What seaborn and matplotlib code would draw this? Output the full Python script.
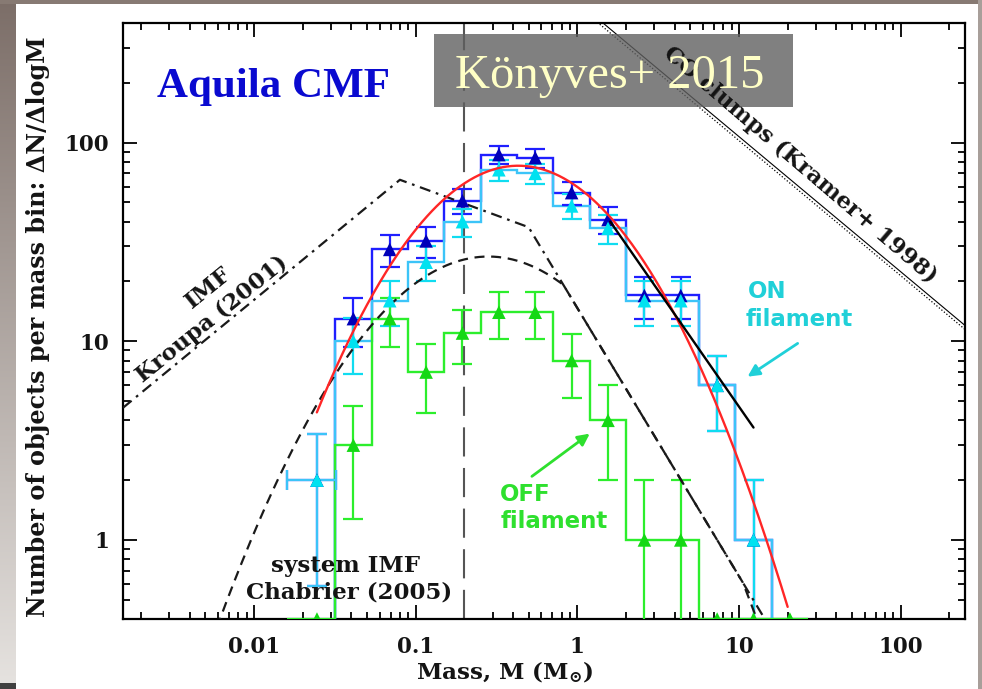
import numpy as np
import pandas as pd
import matplotlib
matplotlib.use("Agg")
import matplotlib.pyplot as plt
from matplotlib.patches import Rectangle
from matplotlib.ticker import FixedLocator, FixedFormatter, LogLocator, NullFormatter
import seaborn as sns

# ---------------- data: Aquila core mass function ----------------
# bin centres in log10(M / Msun), constant bin width in dex
log_centres = [-1.61, -1.385, -1.16, -0.935, -0.71, -0.485, -0.26, -0.035,
               0.19, 0.415, 0.64, 0.865, 1.09, 1.315]
bin_width_dex = 0.225
all_cores = [2, 13, 29, 32, 51, 87, 84, 56, 41, 17, 17, 6, 1, 0]
on_filament = [2, 10, 16, 25, 40, 73, 70, 48, 37, 16, 16, 6, 1, 0]
off_filament = [0, 3, 13, 7, 11, 14, 14, 8, 4, 1, 1, 0, 0, 0]
first_bin_span = [0.016, 0.032]      # horizontal bar of the lowest-mass bin

# lognormal fit to the CMF: log N = log(peak) - (logM - logM_peak)^2 / width
fit_peak_n, fit_peak_logm, fit_width = 76.5, -0.365, 1.25
fit_mass_range = [0.0245, 20.0]
# power-law fit to the high-mass end
pl_anchor_mass, pl_anchor_n, pl_slope = 1.6, 40.0, -1.17
pl_mass_range = [1.6, 12.3]
# Kroupa (2001) IMF, broken power law in dN/dlogM
kroupa_breaks = [0.08, 0.5]
kroupa_slopes = [0.67, -0.3, -1.35]
kroupa_peak_n = 65.0
# Chabrier (2005) system IMF, lognormal part
chab_peak_n, chab_peak_logm, chab_width = 26.7, -0.55, 1.51
# CO clumps, Kramer et al. (1998): dN/dlogM ~ M^-0.7
kramer_slope, kramer_n_at_100 = -0.68, 22.4
completeness_mass = 0.2

xtick_values = [0.01, 0.1, 1, 10, 100]
xtick_labels = ["0.01", "0.1", "1", "10", "100"]
ytick_values = [1, 10, 100]
ytick_labels = ["1", "10", "100"]
x_limits = [0.00155, 250.0]
y_limits = [0.4, 400.0]

# ---------------- style ----------------
sns.set_style("ticks")
plt.rcParams.update({
    "font.family": ["DejaVu Serif"],
    "font.weight": "bold",
    "mathtext.fontset": "dejavuserif",
    "axes.linewidth": 1.6,
    "axes.edgecolor": "black",
})

C_ALL, C_ALL_MK = "#1f1fff", "#0000b8"
C_ON, C_ON_BAR, C_ON_MK = "#3cc4f8", "#10dcf0", "#00e2f0"
C_OFF, C_OFF_MK = "#2cee2c", "#14d814"
C_FIT = "#ff2626"
C_TXT = "#141414"

W, H = 982, 689
fig = plt.figure(figsize=(W / 100, H / 100), dpi=100, facecolor="white")

# slide frame: shaded strips on the left, top and right
grad = fig.add_axes([0, 0, 16 / W, 1])
top_c = np.array([0x7c, 0x6e, 0x68]) / 255
bot_c = np.array([0xe6, 0xe3, 0xe0]) / 255
t = np.linspace(0, 1, 256)[:, None]
grad.imshow((top_c * (1 - t) + bot_c * t)[:, None, :], aspect="auto", extent=[0, 1, 0, 1])
grad.set_axis_off()
fig.add_artist(Rectangle((0, 1 - 4 / H), 1, 4 / H, transform=fig.transFigure,
                         color="#877a73", lw=0))
fig.add_artist(Rectangle((1 - 4 / W, 0), 4 / W, 1, transform=fig.transFigure,
                         color="#a89f9a", lw=0))
fig.add_artist(Rectangle((0, 0), 16 / W, 6 / H, transform=fig.transFigure,
                         color="#404040", lw=0))

ax = fig.add_axes([123 / W, 1 - 619 / H, 842 / W, 596 / H])
ax.set_xscale("log")
ax.set_yscale("log")
ax.set_xlim(*x_limits)
ax.set_ylim(*y_limits)
floor = y_limits[0]

lc = np.array(log_centres)
mass = 10 ** lc
edges_12 = 10 ** np.append(lc[1:13] - bin_width_dex / 2, lc[12] + bin_width_dex / 2)
edges_13 = 10 ** np.append(lc[1:14] - bin_width_dex / 2, lc[13] + bin_width_dex / 2)
all_v = np.array(all_cores, float)
on_v = np.array(on_filament, float)
off_v = np.array(off_filament, float)

# ---------------- model curves ----------------
m_grid = np.logspace(np.log10(x_limits[0]), np.log10(40), 900)

m1, m2 = kroupa_breaks
a1, a2, a3 = kroupa_slopes
n_m2 = kroupa_peak_n * (m2 / m1) ** a2
kroupa = np.where(m_grid < m1, kroupa_peak_n * (m_grid / m1) ** a1,
                  kroupa_peak_n * (m_grid / m1) ** a2)
kroupa = np.where(m_grid > m2, n_m2 * (m_grid / m2) ** a3, kroupa)
kroupa_tail = n_m2 * (m_grid / m2) ** a3

chab = 10 ** (np.log10(chab_peak_n) - (np.log10(m_grid) - chab_peak_logm) ** 2 / chab_width)
chab = np.where(m_grid > m2, np.minimum(chab, kroupa_tail), chab)

fit_m = np.logspace(np.log10(fit_mass_range[0]), np.log10(fit_mass_range[1]), 300)
fit_n = 10 ** (np.log10(fit_peak_n) - (np.log10(fit_m) - fit_peak_logm) ** 2 / fit_width)

pl_m = np.logspace(np.log10(pl_mass_range[0]), np.log10(pl_mass_range[1]), 50)
pl_n = pl_anchor_n * (pl_m / pl_anchor_mass) ** pl_slope

kr_m = np.logspace(0, 2.6, 50)
kr_n = kramer_n_at_100 * (kr_m / 100) ** kramer_slope

sns.lineplot(x=kr_m, y=kr_n, ax=ax, color="black", lw=0.8, zorder=2)
sns.lineplot(x=kr_m, y=kr_n * 0.955, ax=ax, color="black", lw=0.9,
             linestyle=(0, (1, 1.6)), zorder=2)
sns.lineplot(x=m_grid, y=kroupa, ax=ax, color="#1a1a1a", lw=1.6,
             linestyle=(0, (5, 2.6, 1.2, 2.6)), zorder=6)
sns.lineplot(x=m_grid, y=chab, ax=ax, color="#1a1a1a", lw=1.6,
             linestyle=(0, (4.5, 3)), zorder=6)

ax.axvline(completeness_mass, color="#555555", lw=1.5, linestyle=(0, (14, 5.5)), zorder=2)

# ---------------- histograms ----------------
ax.stairs(np.maximum(all_v[1:13], floor), edges_12, baseline=floor,
          color=C_ALL, lw=1.7, zorder=4)
ax.stairs(np.maximum(on_v[1:13], floor), edges_12, baseline=floor,
          color=C_ON, lw=1.7, zorder=4.1)
ax.stairs(np.maximum(off_v[1:14], floor), edges_13, baseline=floor,
          color=C_OFF, lw=1.7, zorder=4.2)


def poisson_bars(vals, idx, color, z):
    v = vals[idx]
    keep = v > 0
    ax.errorbar(mass[idx][keep], v[keep], yerr=np.sqrt(v[keep]), fmt="none",
                ecolor=color, elinewidth=1.6, capsize=7, capthick=1.6, zorder=z)


span_lo = mass[0] - first_bin_span[0]
span_hi = first_bin_span[1] - mass[0]
for vals, bar_c, z in [(all_v, C_ALL, 5), (on_v, C_ON_BAR, 5.1), (off_v, C_OFF, 5.2)]:
    poisson_bars(vals, np.arange(1, 14), bar_c, z)

# lowest-mass bin: point with horizontal extent
for vals, bar_c, z in [(all_v, C_ALL, 5), (on_v, C_ON, 5.1), (off_v, C_OFF, 5.2)]:
    y0 = max(vals[0], floor)
    yerr = np.sqrt(vals[0]) if vals[0] > 0 else 0
    ax.errorbar([mass[0]], [y0], xerr=[[span_lo], [span_hi]],
                yerr=[[yerr], [yerr]] if yerr else None, fmt="none",
                ecolor=bar_c, elinewidth=1.6, capsize=7 if yerr else 0,
                capthick=1.6, zorder=z)

# triangles
pts_all = pd.DataFrame({"m": mass[:13], "n": all_v[:13]})
pts_on = pd.DataFrame({"m": mass[:13], "n": on_v[:13]})
pts_off = pd.DataFrame({"m": mass, "n": np.maximum(off_v, floor)})
pts_all = pts_all[pts_all.n > 0]
pts_on = pts_on[pts_on.n > 0]
sns.scatterplot(data=pts_all, x="m", y="n", marker="^", s=95, color=C_ALL_MK,
                edgecolor="none", ax=ax, zorder=7)
sns.scatterplot(data=pts_on, x="m", y="n", marker="^", s=95, color=C_ON_MK,
                edgecolor="none", ax=ax, zorder=7.1)
sns.scatterplot(data=pts_off, x="m", y="n", marker="^", s=95, color=C_OFF_MK,
                edgecolor="none", ax=ax, zorder=7.2)

# fits on top
sns.lineplot(x=fit_m, y=fit_n, ax=ax, color=C_FIT, lw=1.7, zorder=8)
sns.lineplot(x=pl_m, y=pl_n, ax=ax, color="black", lw=1.7, zorder=8)

# ---------------- axes ----------------
ax.xaxis.set_major_locator(FixedLocator(xtick_values))
ax.xaxis.set_major_formatter(FixedFormatter(xtick_labels))
ax.yaxis.set_major_locator(FixedLocator(ytick_values))
ax.yaxis.set_major_formatter(FixedFormatter(ytick_labels))
ax.xaxis.set_minor_locator(LogLocator(base=10, subs=np.arange(2, 10), numticks=20))
ax.yaxis.set_minor_locator(LogLocator(base=10, subs=np.arange(2, 10), numticks=20))
ax.xaxis.set_minor_formatter(NullFormatter())
ax.yaxis.set_minor_formatter(NullFormatter())
ax.tick_params(which="both", direction="in", top=True, right=True,
               color="black", width=1.3, labelsize=15.5, labelcolor=C_TXT)
ax.tick_params(which="major", length=10)
ax.tick_params(which="minor", length=5)
ax.tick_params(axis="x", pad=12)
ax.tick_params(axis="y", pad=10)
for lab in ax.get_xticklabels() + ax.get_yticklabels():
    lab.set_fontweight("bold")
for s in ax.spines.values():
    s.set_linewidth(1.6)
ax.set_xlabel("")
ax.set_ylabel("")

fig.text(505 / W, 1 - 672 / H, r"Mass, M (M$_{\odot}$)", ha="center", va="center",
         fontsize=16.6, fontweight="bold", color=C_TXT)
fig.text(38 / W, 1 - 327 / H, "Number of objects per mass bin: ΔN/ΔlogM",
         rotation=90, ha="center", va="center", fontsize=17.2, fontweight="bold",
         color=C_TXT)

# ---------------- annotations ----------------
tr = ax.transAxes
ax.text(0.1057, 0.503, "Kroupa (2001)", rotation=39, ha="center", va="center",
        fontsize=16.5, fontweight="bold", color=C_TXT, transform=tr, zorder=9)
ax.text(0.101, 0.555, "IMF", rotation=39, ha="center", va="center",
        fontsize=16.5, fontweight="bold", color=C_TXT, transform=tr, zorder=9)
ax.text(0.264, 0.089, "system IMF", ha="center", va="center", fontsize=16.5,
        fontweight="bold", color=C_TXT, transform=tr, zorder=9)
ax.text(0.268, 0.0453, "Chabrier (2005)", ha="center", va="center", fontsize=16.5,
        fontweight="bold", color=C_TXT, transform=tr, zorder=9)
ax.text(0.804, 0.762, "CO clumps (Kramer+ 1998)", rotation=-40.5, ha="center",
        va="center", fontsize=16.3, fontweight="bold", color=C_TXT, transform=tr,
        zorder=10.5)

sans = ["DejaVu Sans"]
ax.text(0.742, 0.550, "ON", ha="left", va="center", fontsize=16.5, fontweight="bold",
        color="#20d0d8", family=sans, transform=tr, zorder=9)
ax.text(0.739, 0.502, "filament", ha="left", va="center", fontsize=16.5,
        fontweight="bold", color="#20d0d8", family=sans, transform=tr, zorder=9)
ax.annotate("", xy=(0.739, 0.404), xytext=(0.804, 0.465), xycoords=tr, textcoords=tr,
            arrowprops=dict(arrowstyle="-|>,head_length=0.7,head_width=0.35",
                            color="#20d0d8", lw=2), zorder=9)
ax.text(0.448, 0.2097, "OFF", ha="left", va="center", fontsize=16.5, fontweight="bold",
        color="#2ee02e", family=sans, transform=tr, zorder=9)
ax.text(0.448, 0.163, "filament", ha="left", va="center", fontsize=16.5,
        fontweight="bold", color="#2ee02e", family=sans, transform=tr, zorder=9)
ax.annotate("", xy=(0.557, 0.3138), xytext=(0.483, 0.2366), xycoords=tr, textcoords=tr,
            arrowprops=dict(arrowstyle="-|>,head_length=0.7,head_width=0.35",
                            color="#2ee02e", lw=2), zorder=9)

ax.text(0.0404, 0.876, "Aquila CMF", ha="left", va="baseline", fontsize=31,
        fontweight="bold", color="#0a0ad0", family=["Liberation Serif"],
        transform=tr, zorder=9)

ax.add_patch(Rectangle((0.3694, 0.859), 0.4263, 0.1225, transform=tr,
                       facecolor="#606060", alpha=0.8, lw=0, zorder=10, clip_on=False))
ax.text(0.5784, 0.891, "Könyves+ 2015", ha="center", va="baseline", fontsize=35,
        fontweight="normal", color="#ffffc6", family=["Liberation Serif"],
        transform=tr, zorder=11)

fig.savefig("out.png", dpi=100, facecolor="white")
